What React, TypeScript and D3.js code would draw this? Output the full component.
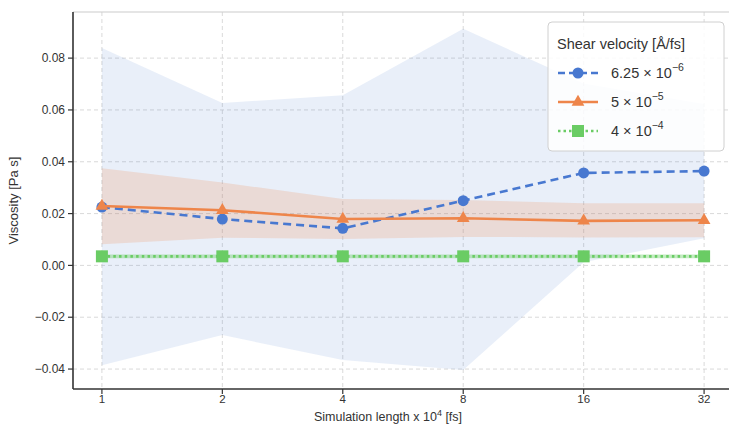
import React from "react";
import * as d3 from "d3";

const categories = ["1", "2", "4", "8", "16", "32"];
const yTicks = [-0.04, -0.02, 0.0, 0.02, 0.04, 0.06, 0.08];

const blueMean = [0.0225, 0.0179, 0.0143, 0.0250, 0.0357, 0.0364];
const blueLower = [-0.0385, -0.0269, -0.0365, -0.0404, 0.0012, 0.0105];
const blueUpper = [0.0839, 0.0627, 0.0657, 0.0913, 0.0702, 0.0623];

const orangeMean = [0.0229, 0.0213, 0.0179, 0.0182, 0.0172, 0.0174];
const orangeLower = [0.0082, 0.0107, 0.0102, 0.0110, 0.0108, 0.0109];
const orangeUpper = [0.0375, 0.0320, 0.0256, 0.0252, 0.0240, 0.0240];

const greenMean = [0.0035, 0.0035, 0.0035, 0.0035, 0.0035, 0.0035];
const greenLower = [0.0028, 0.0028, 0.0028, 0.0028, 0.0028, 0.0028];
const greenUpper = [0.0042, 0.0042, 0.0042, 0.0042, 0.0042, 0.0042];

const W = 729;
const H = 432;
const L = 73, R = 733, T = 12, B = 389;

const BLUE = "#4878d0";
const ORANGE = "#ee854a";
const GREEN = "#6acc64";
const FONT = "'Liberation Sans', Arial, sans-serif";

export default function App() {
  const x = d3.scaleLinear().domain([-0.24, 5.24]).range([L, R]);
  const y = d3.scaleLinear().domain([-0.0477, 0.0978]).range([B, T]);
  const idx = categories.map((_, i) => i);

  const area = (lo: number[], hi: number[]) =>
    d3.area<number>().x((i) => x(i)).y0((i) => y(lo[i])).y1((i) => y(hi[i]))(idx) || "";
  const line = (m: number[]) =>
    d3.line<number>().x((i) => x(i)).y((i) => y(m[i]))(idx) || "";

  const tri = d3.symbol().type(d3.symbolTriangle).size(70)() || "";

  const legendRows = [
    { color: BLUE, dash: "7,4", marker: "circle", base: "6.25 × 10", exp: "−6" },
    { color: ORANGE, dash: "", marker: "tri", base: "5 × 10", exp: "−5" },
    { color: GREEN, dash: "2.5,3", marker: "square", base: "4 × 10", exp: "−4" },
  ];

  const marker = (kind: string, cx: number, cy: number, color: string, key: string) => {
    if (kind === "circle") return <circle key={key} cx={cx} cy={cy} r={5.5} fill={color} />;
    if (kind === "tri") return <path key={key} d={tri} transform={`translate(${cx},${cy})`} fill={color} />;
    return <rect key={key} x={cx - 6} y={cy - 6} width={12} height={12} fill={color} />;
  };

  return (
    <div style={{ position: "absolute", left: 0, top: 0 }}>
      <svg width={W} height={H} style={{ display: "block", fontFamily: FONT }}>
        <rect x={0} y={0} width={W} height={H} fill="#fff" />
        <defs>
          <clipPath id="plot">
            <rect x={L} y={T} width={R - L} height={B - T} />
          </clipPath>
        </defs>
        <line x1={L} x2={R} y1={T} y2={T} stroke="#dcdcdc" strokeWidth={1.5} />
        {yTicks.map((t) => (
          <line key={"gy" + t} x1={L} x2={R} y1={y(t)} y2={y(t)} stroke="#cfcfcf" strokeWidth={0.8} strokeDasharray="4,3" />
        ))}
        {idx.map((i) => (
          <line key={"gx" + i} x1={x(i)} x2={x(i)} y1={T} y2={B} stroke="#cfcfcf" strokeWidth={0.8} strokeDasharray="4,3" />
        ))}
        <g clipPath="url(#plot)">
          <path d={area(blueLower, blueUpper)} fill={BLUE} fillOpacity={0.12} />
          <path d={area(orangeLower, orangeUpper)} fill={ORANGE} fillOpacity={0.2} />
          <path d={area(greenLower, greenUpper)} fill={GREEN} fillOpacity={0.4} />
          <path d={line(blueMean)} fill="none" stroke={BLUE} strokeWidth={2.6} strokeDasharray="8,5" />
          {idx.map((i) => marker("circle", x(i), y(blueMean[i]), BLUE, "b" + i))}
          <path d={line(orangeMean)} fill="none" stroke={ORANGE} strokeWidth={2.6} />
          {idx.map((i) => marker("tri", x(i), y(orangeMean[i]), ORANGE, "o" + i))}
          <path d={line(greenMean)} fill="none" stroke={GREEN} strokeWidth={2.8} strokeDasharray="2.5,3.2" />
          {idx.map((i) => marker("square", x(i), y(greenMean[i]), GREEN, "g" + i))}
        </g>
        <line x1={L} x2={L} y1={T} y2={B} stroke="#333" strokeWidth={1.6} />
        <line x1={L} x2={R} y1={B} y2={B} stroke="#333" strokeWidth={1.6} />
        {yTicks.map((t) => (
          <g key={"yt" + t}>
            <line x1={L - 5} x2={L} y1={y(t)} y2={y(t)} stroke="#333" strokeWidth={1.2} />
            <text x={L - 8} y={y(t)} dy="0.35em" textAnchor="end" fontSize={12} fill="#333">
              {t < 0 ? "−" + Math.abs(t).toFixed(2) : t.toFixed(2)}
            </text>
          </g>
        ))}
        {idx.map((i) => (
          <g key={"xt" + i}>
            <line x1={x(i)} x2={x(i)} y1={B} y2={B + 5} stroke="#333" strokeWidth={1.2} />
            <text x={x(i)} y={B + 14} textAnchor="middle" fontSize={11.5} fill="#333">
              {categories[i]}
            </text>
          </g>
        ))}
        <text x={388} y={421} textAnchor="middle" fontSize={12.5} fill="#333">
          Simulation length x 10<tspan dy={-5} fontSize={9}>4</tspan>
          <tspan dy={5}> [fs]</tspan>
        </text>
        <text transform={`translate(18,${(T + B) / 2}) rotate(-90)`} textAnchor="middle" fontSize={13} fill="#333">
          Viscosity [Pa s]
        </text>
        <g>
          <rect x={548} y={22} width={176} height={129} rx={4} fill="#fff" fillOpacity={0.85} stroke="#d0d0d0" strokeWidth={1} />
          <text x={557} y={49} fontSize={14.5} fill="#333">Shear velocity [Å/fs]</text>
          {legendRows.map((r, k) => {
            const cy = 73 + k * 29;
            return (
              <g key={"lg" + k}>
                <line x1={558} x2={598} y1={cy} y2={cy} stroke={r.color} strokeWidth={2.6} strokeDasharray={r.dash || undefined} />
                {marker(r.marker, 578, cy, r.color, "lm" + k)}
                <text x={611} y={cy + 5} fontSize={14.5} fill="#333">
                  {r.base}
                  <tspan dy={-7} fontSize={10.5}>{r.exp}</tspan>
                </text>
              </g>
            );
          })}
        </g>
      </svg>
    </div>
  );
}
